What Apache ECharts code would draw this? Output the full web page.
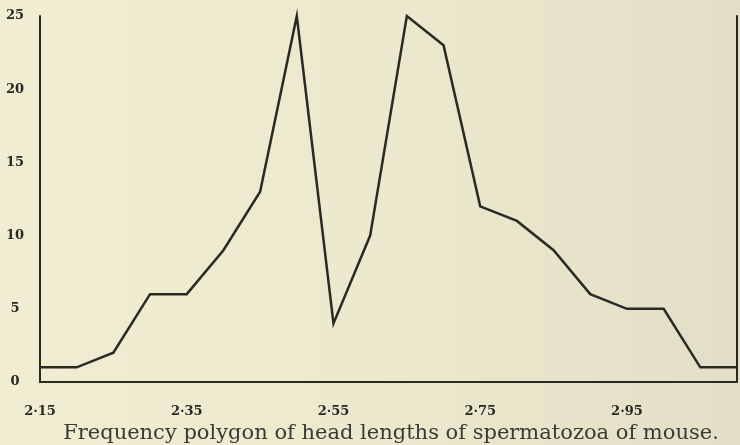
<!DOCTYPE html>
<html>
<head>
<meta charset="utf-8">
<script src="https://cdn.jsdelivr.net/npm/echarts@6/dist/echarts.min.js"></script>
<style>
  html, body { margin: 0; padding: 0; }
  body { background: linear-gradient(90deg, #f1edd2 0%, #ece8cd 55%, #e3dfc7 100%); }
  #chart { width: 740px; height: 445px; }
</style>
</head>
<body>
<div id="chart"></div>
<script>
// Head length classes (micro-units) and their frequencies
const headLengths = [2.15, 2.20, 2.25, 2.30, 2.35, 2.40, 2.45, 2.50, 2.55, 2.60,
                     2.65, 2.70, 2.75, 2.80, 2.85, 2.90, 2.95, 3.00, 3.05, 3.10];
const frequencies = [1, 1, 2, 6, 6, 9, 13, 25, 4, 10,
                     25, 23, 12, 11, 9, 6, 5, 5, 1, 1];
const xTickValues = [2.15, 2.35, 2.55, 2.75, 2.95];
const yTickValues = [0, 5, 10, 15, 20, 25];

const points = headLengths.map((x, i) => [x, frequencies[i]]);
const ink = '#2a2924';
const labelFont = '"DejaVu Serif", serif';

const chart = echarts.init(document.getElementById('chart'));
chart.setOption({
  backgroundColor: 'transparent',
  animation: false,
  title: {
    text: 'Frequency polygon of head lengths of spermatozoa of mouse.',
    left: 386,
    textAlign: 'center',
    top: 418,
    textStyle: { fontFamily: '"DejaVu Serif", serif', fontWeight: 'normal', fontSize: 21, color: '#3a3934' }
  },
  grid: { left: 40, right: 3, top: 16, bottom: 63 },
  xAxis: {
    type: 'value',
    min: 2.15,
    max: 3.10,
    axisLine: { show: true, lineStyle: { color: ink, width: 2 } },
    axisTick: { show: false },
    splitLine: { show: false },
    axisLabel: {
      customValues: xTickValues,
      margin: 23,
      fontFamily: labelFont,
      fontWeight: 'bold',
      fontSize: 13,
      color: ink,
      formatter: v => v.toFixed(2).replace('.', '·')
    }
  },
  yAxis: [{
    type: 'value',
    min: 0,
    max: 25,
    axisLine: { show: true, lineStyle: { color: ink, width: 2 } },
    axisTick: { show: false },
    splitLine: { show: false },
    axisLabel: {
      customValues: yTickValues,
      margin: 25,
      align: 'center',
      padding: [0, 0, 16, 0],
      fontFamily: labelFont,
      fontWeight: 'bold',
      fontSize: 13,
      color: ink
    }
  }, {
    type: 'value',
    position: 'right',
    min: 0,
    max: 25,
    axisLine: { show: true, lineStyle: { color: ink, width: 2 } },
    axisTick: { show: false },
    axisLabel: { show: false },
    splitLine: { show: false }
  }],
  series: [{
    type: 'line',
    data: points,
    showSymbol: false,
    symbol: 'none',
    lineStyle: { color: ink, width: 2.5, join: 'miter' },
    clip: false
  }]
});
</script>
</body>
</html>
